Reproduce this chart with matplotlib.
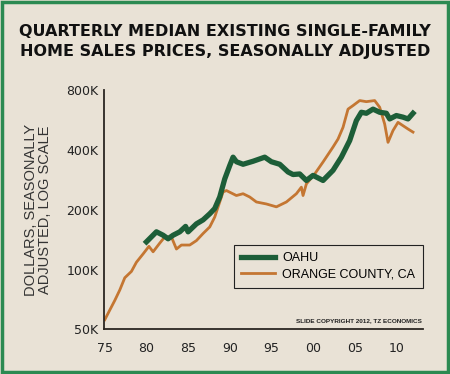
import matplotlib.pyplot as plt
from matplotlib.patches import Rectangle

# Orange County, CA (year, thousands of dollars)
orange_years = [1975.0, 1976.2, 1976.8, 1977.4, 1978.2, 1978.8, 1979.6, 1980.3, 1980.8,
                1981.6, 1982.2, 1983.0, 1983.6, 1984.2, 1985.2, 1986.0, 1986.8, 1987.6,
                1988.2, 1989.2, 1989.6, 1990.8, 1991.6, 1992.4, 1993.2, 1994.4, 1995.6,
                1996.8, 1998.0, 1998.6, 1998.8, 1999.2, 2000.2, 2001.2, 2002.4, 2003.0,
                2003.6, 2004.2, 2004.8, 2005.6, 2006.4, 2007.4, 2008.0, 2008.6, 2009.0,
                2009.6, 2010.2, 2010.8, 2011.4, 2012.0]
orange_vals = [56, 70, 79, 91, 98, 109, 120, 131, 123,
               136, 146, 146, 127, 133, 133, 140, 152, 164,
               184, 246, 250, 236, 241, 232, 219, 214, 207,
               219, 241, 260, 236, 270, 303, 348, 414, 454,
               520, 642, 669, 709, 700, 709, 656, 540, 437,
               501, 551, 530, 510, 492]

# Oahu
oahu_years = [1980.0, 1981.2, 1982.0, 1982.6, 1983.2, 1984.0, 1984.7, 1985.0, 1986.0,
              1986.8, 1987.6, 1988.2, 1988.8, 1989.4, 1990.0, 1990.4, 1990.8, 1991.6,
              1992.8, 1994.2, 1995.0, 1996.0, 1997.0, 1997.6, 1998.4, 1999.2, 2000.0,
              2001.2, 2002.4, 2003.4, 2004.4, 2005.2, 2005.8, 2006.4, 2007.2, 2008.0,
              2008.8, 2009.2, 2010.0, 2010.8, 2011.4, 2012.0]
oahu_vals = [138, 155, 149, 143, 149, 155, 165, 155, 170,
             178, 191, 203, 232, 286, 334, 368, 349, 339,
             351, 368, 349, 339, 310, 301, 303, 281, 298,
             281, 316, 368, 446, 562, 619, 612, 642, 619,
             612, 573, 596, 585, 573, 612]

y_ticks = [50, 100, 200, 400, 800]
y_labels = ["50K", "100K", "200K", "400K", "800K"]
x_ticks = [1975, 1980, 1985, 1990, 1995, 2000, 2005, 2010]
x_labels = ["75", "80", "85", "90", "95", "00", "05", "10"]

bg = "#E9E2D6"
green = "#1D5E38"
orange = "#C47632"

fig = plt.figure(figsize=(4.5, 3.74), dpi=100, facecolor=bg)
fig.patches.append(Rectangle((0.004, 0.005), 0.992, 0.99, transform=fig.transFigure,
                             fill=False, edgecolor="#2C8A52", linewidth=2.5))

fig.text(0.5, 0.889, "QUARTERLY MEDIAN EXISTING SINGLE-FAMILY\nHOME SALES PRICES, SEASONALLY ADJUSTED",
         ha="center", va="center", fontsize=11.5, fontweight="bold",
         family="DejaVu Sans", color="#111111", linespacing=1.38)

ax = fig.add_axes([0.231, 0.119, 0.709, 0.640])
ax.set_facecolor(bg)
ax.plot(orange_years, orange_vals, color=orange, lw=2.0, label="ORANGE COUNTY, CA", zorder=2)
ax.plot(oahu_years, oahu_vals, color=green, lw=3.8, label="OAHU", zorder=3)

ax.set_yscale("log")
ax.set_ylim(50, 800)
ax.set_xlim(1974.9, 2013.2)
ax.set_yticks(y_ticks)
ax.set_yticklabels(y_labels)
ax.minorticks_off()
ax.set_xticks(x_ticks)
ax.set_xticklabels(x_labels)
ax.tick_params(length=0, labelsize=9, colors="#222222", pad=4)
for lab in ax.get_xticklabels() + ax.get_yticklabels():
    lab.set_family("DejaVu Sans")
ax.tick_params(axis="x", pad=9)

for s in ["top", "right"]:
    ax.spines[s].set_visible(False)
for s in ["left", "bottom"]:
    ax.spines[s].set_color("#2B2622")
    ax.spines[s].set_linewidth(1.3)

ax.set_ylabel("DOLLARS, SEASONALLY\nADJUSTED, LOG SCALE", fontsize=10.5,
              family=["Liberation Sans Narrow", "Liberation Sans"], color="#333333",
              labelpad=10, linespacing=1.0)

handles, labels = ax.get_legend_handles_labels()
leg = ax.legend(handles[::-1], labels[::-1], loc="upper right", bbox_to_anchor=(1.0, 0.353),
                borderaxespad=0, frameon=True, fancybox=False, edgecolor="#222222",
                facecolor=bg, framealpha=1, prop={"family": "Liberation Sans", "size": 9},
                handlelength=2.7, borderpad=0.6, labelspacing=0.3, handletextpad=0.6)
leg.get_frame().set_linewidth(0.8)

ax.text(0.995, 0.025, "SLIDE COPYRIGHT 2012, TZ ECONOMICS", transform=ax.transAxes,
        ha="right", va="bottom", fontsize=4.6, fontweight="bold",
        family="Liberation Sans", color="#222222")

fig.savefig("out.png", dpi=100, facecolor=bg)
